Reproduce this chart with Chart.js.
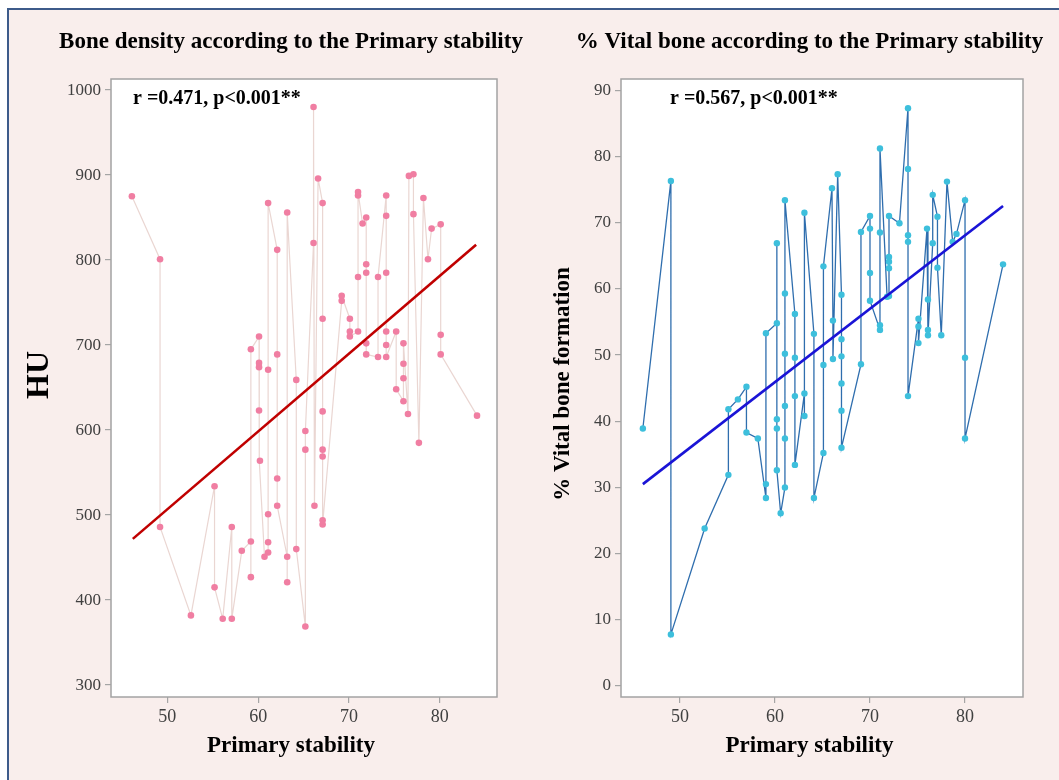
<!DOCTYPE html>
<html>
<head>
<meta charset="utf-8">
<script src="https://cdn.jsdelivr.net/npm/chart.js@4.4.0/dist/chart.umd.min.js"></script>
<style>
  body { margin: 0; background: #fff; width: 1059px; height: 780px; overflow: hidden; position: relative; }
  .frame { position: absolute; left: 7px; top: 8px; width: 1052px; height: 772px; background: #f9eeec;
           border-left: 2px solid #3d5b8a; border-top: 2px solid #3d5b8a; box-sizing: border-box; }
  canvas { position: absolute; top: 0; }
  #boneChart { left: 0; }
  #vitalChart { left: 545px; }
</style>
</head>
<body>
<div class="frame"></div>
<canvas id="boneChart" width="545" height="780"></canvas>
<canvas id="vitalChart" width="514" height="780"></canvas>
<script>
// left panel: primary stability vs bone density (HU)
const stabilityHU = [46.1, 49.2, 49.2, 52.6, 55.2, 55.2, 56.1, 57.1, 57.1, 58.2, 59.2, 59.2, 59.2, 60.1, 60.1, 60.1, 60.1, 60.2, 60.7, 61.1, 61.1, 61.1, 61.1, 61.1, 62.1, 62.1, 62.1, 62.1, 63.2, 63.2, 63.2, 64.2, 64.2, 65.2, 65.2, 65.2, 66.1, 66.1, 66.2, 66.6, 67.1, 67.1, 67.1, 67.1, 67.1, 67.1, 67.1, 69.2, 69.2, 70.1, 70.1, 70.1, 71.0, 71.0, 71.0, 71.0, 71.5, 71.9, 71.9, 71.9, 71.9, 71.9, 73.2, 73.2, 74.1, 74.1, 74.1, 74.1, 74.1, 74.1, 75.2, 75.2, 76.0, 76.0, 76.0, 76.0, 76.5, 76.6, 77.1, 77.1, 77.7, 78.2, 78.7, 79.1, 80.1, 80.1, 80.1, 84.1];
const densityHU = [875, 801, 486, 382, 534, 415, 378, 486, 378, 458, 469, 427, 695, 710, 679, 674, 623, 564, 451, 456, 468, 501, 671, 867, 812, 689, 543, 511, 451, 421, 856, 659, 460, 369, 577, 599, 820, 980, 511, 896, 867, 731, 622, 577, 569, 494, 489, 752, 758, 731, 716, 710, 716, 780, 876, 880, 843, 850, 795, 785, 702, 689, 686, 780, 876, 852, 785, 716, 700, 686, 716, 648, 634, 661, 678, 702, 619, 899, 901, 854, 585, 873, 801, 837, 842, 712, 689, 617];
const fitHUx = [46.2, 84.0];
const fitHUy = [472, 818];

// right panel: primary stability vs % vital bone formation
const stabilityVB = [46.1, 49.05, 49.05, 52.6, 55.1, 55.1, 56.1, 57.0, 57.0, 58.2, 59.05, 59.05, 59.05, 60.2, 60.2, 60.2, 60.2, 60.2, 60.6, 61.05, 61.05, 61.05, 61.05, 61.05, 61.05, 62.1, 62.1, 62.1, 62.1, 63.1, 63.1, 63.1, 64.1, 64.1, 65.1, 65.1, 65.1, 66.0, 66.1, 66.1, 66.6, 67.0, 67.0, 67.0, 67.0, 67.0, 67.0, 69.05, 69.05, 70.0, 70.0, 70.0, 70.0, 71.05, 71.05, 71.05, 71.05, 71.8, 72.0, 72.0, 72.0, 72.0, 72.0, 73.1, 74.0, 74.0, 74.0, 74.0, 74.0, 75.1, 75.1, 75.1, 76.0, 76.1, 76.1, 76.1, 76.6, 76.6, 77.1, 77.1, 77.5, 78.1, 78.7, 79.1, 80.0, 80.0, 80.0, 84.0];
const vitalBone = [38.9, 76.3, 7.8, 23.8, 31.9, 41.8, 43.3, 45.2, 38.3, 37.4, 28.4, 30.5, 53.3, 54.8, 66.9, 40.3, 38.9, 32.6, 26.1, 30.0, 37.4, 42.3, 50.2, 59.3, 73.4, 56.2, 49.6, 43.8, 33.4, 44.2, 40.8, 71.5, 53.2, 28.4, 35.2, 48.5, 63.4, 75.2, 55.2, 49.4, 77.3, 59.1, 52.4, 49.8, 45.7, 41.6, 36.0, 48.6, 68.6, 71.0, 69.1, 62.4, 58.2, 53.8, 54.5, 68.5, 81.2, 58.8, 58.9, 63.1, 64.1, 64.8, 71.0, 69.9, 87.3, 78.1, 68.1, 67.1, 43.8, 55.5, 54.3, 51.8, 69.1, 58.4, 53.8, 53.0, 66.9, 74.2, 70.9, 63.2, 53.0, 76.2, 67.1, 68.3, 73.4, 49.6, 37.4, 63.7];
const fitVBx = [46.1, 84.0];
const fitVBy = [30.5, 72.5];

const xTicks = [50, 60, 70, 80];
const yTicksHU = [300, 400, 500, 600, 700, 800, 900, 1000];
const yTicksVB = [0, 10, 20, 30, 40, 50, 60, 70, 80, 90];

const serif = "'Liberation Serif', 'Times New Roman', serif";
Chart.defaults.font.family = serif;

// white plot area, grey frame, titles and the r / p note
const panelPlugin = {
  id: "panel",
  beforeDraw(chart) {
    const a = chart.chartArea;
    const ctx = chart.ctx;
    ctx.save();
    ctx.fillStyle = "#ffffff";
    ctx.fillRect(a.left, a.top, a.right - a.left, a.bottom - a.top);
    ctx.restore();
  },
  afterDraw(chart, args, opts) {
    const a = chart.chartArea;
    const ctx = chart.ctx;
    ctx.save();
    ctx.strokeStyle = "#a3a3a3";
    ctx.lineWidth = 1.5;
    ctx.strokeRect(a.left, a.top, a.right - a.left, a.bottom - a.top);
    ctx.fillStyle = "#000";
    ctx.textAlign = "center";
    ctx.textBaseline = "alphabetic";
    ctx.font = "bold 23px " + serif;
    ctx.fillText(opts.title, opts.centerX, 48);
    ctx.fillText("Primary stability", opts.centerX, 752);
    ctx.textAlign = "left";
    ctx.font = "bold 20px " + serif;
    ctx.fillText(opts.note, opts.noteX, 104);
    ctx.translate(opts.yTitleX, opts.yTitleY);
    ctx.rotate(-Math.PI / 2);
    ctx.textAlign = "center";
    ctx.textBaseline = "middle";
    ctx.font = "bold " + opts.yTitleSize + "px " + serif;
    ctx.fillText(opts.yTitle, 0, 0);
    ctx.restore();
  },
};

function makeScales(xMin, xMax, yMin, yMax, yTicks, yWidth) {
  const grid = { display: true, drawOnChartArea: false, drawTicks: true, tickLength: 6, color: "#a5a5a5", lineWidth: 1.2 };
  return {
    x: {
      type: "linear",
      min: xMin,
      max: xMax,
      grid: grid,
      border: { display: false },
      ticks: { includeBounds: false, color: "#404040", font: { size: 18 }, padding: 3, callback: (v) => String(v) },
      afterBuildTicks: (scale) => {
        scale.ticks = xTicks.map((v) => ({ value: v }));
      },
      afterFit: (scale) => {
        scale.height = 83;
      },
    },
    y: {
      type: "linear",
      min: yMin,
      max: yMax,
      grid: grid,
      border: { display: false },
      ticks: { includeBounds: false, color: "#404040", font: { size: 17 }, padding: 4, callback: (v) => String(v) },
      afterBuildTicks: (scale) => {
        scale.ticks = yTicks.map((v) => ({ value: v }));
      },
      afterFit: (scale) => {
        scale.width = yWidth;
      },
    },
  };
}

new Chart(document.getElementById("boneChart"), {
  type: "scatter",
  data: {
    datasets: [
      {
        label: "Fit",
        data: fitHUx.map((x, i) => ({ x: x, y: fitHUy[i] })),
        showLine: true,
        borderColor: "#c00000",
        borderWidth: 2.6,
        pointRadius: 0,
      },
      {
        label: "HU",
        data: stabilityHU.map((x, i) => ({ x: x, y: densityHU[i] })),
        showLine: true,
        borderColor: "#ead6d2",
        borderWidth: 1.2,
        pointRadius: 3.3,
        pointBackgroundColor: "#f07ea2",
        pointBorderWidth: 0,
      },
    ],
  },
  options: {
    responsive: false,
    animation: false,
    layout: { padding: { left: 0, top: 79, right: 48, bottom: 0 } },
    plugins: {
      legend: { display: false },
      tooltip: { enabled: false },
      panel: {
        title: "Bone density according to the Primary stability",
        centerX: 291,
        note: "r =0.471, p<0.001**",
        noteX: 133,
        yTitle: "HU",
        yTitleX: 40,
        yTitleY: 375,
        yTitleSize: 32,
      },
    },
    scales: makeScales(43.8, 86.3, 286, 1013, yTicksHU, 111),
  },
  plugins: [panelPlugin],
});

new Chart(document.getElementById("vitalChart"), {
  type: "scatter",
  data: {
    datasets: [
      {
        label: "Fit",
        data: fitVBx.map((x, i) => ({ x: x, y: fitVBy[i] })),
        showLine: true,
        borderColor: "#1a14d6",
        borderWidth: 2.6,
        pointRadius: 0,
      },
      {
        label: "% Vital bone",
        data: stabilityVB.map((x, i) => ({ x: x, y: vitalBone[i] })),
        showLine: true,
        borderColor: "#2f6eae",
        borderWidth: 1.3,
        pointRadius: 3.2,
        pointBackgroundColor: "#3dbfdc",
        pointBorderWidth: 0,
      },
    ],
  },
  options: {
    responsive: false,
    animation: false,
    layout: { padding: { left: 0, top: 79, right: 36, bottom: 0 } },
    plugins: {
      legend: { display: false },
      tooltip: { enabled: false },
      panel: {
        title: "% Vital bone according to the Primary stability",
        centerX: 264.5,
        note: "r =0.567, p<0.001**",
        noteX: 125,
        yTitle: "% Vital bone formation",
        yTitleX: 18,
        yTitleY: 384,
        yTitleSize: 23,
      },
    },
    scales: makeScales(43.8, 86.1, -1.66, 91.7, yTicksVB, 76),
  },
  plugins: [panelPlugin],
});
</script>
</body>
</html>
